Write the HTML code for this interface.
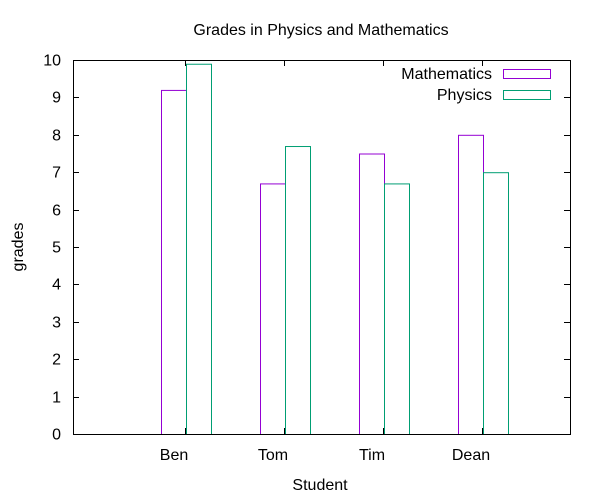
<!DOCTYPE html>
<html><head><meta charset="utf-8"><style>
body{margin:0;background:#fff}
svg{display:block;font-family:"Liberation Sans",sans-serif;font-size:16px}
</style></head><body>
<svg id="c" width="600" height="500">
<rect x="0" y="0" width="600" height="500" fill="#fff"/>
<text x="321" y="35" text-anchor="middle">Grades in Physics and Mathematics</text>
<text x="320" y="490" text-anchor="middle">Student</text>
<text transform="translate(23,247) rotate(-90)" text-anchor="middle">grades</text>
<g id="axes"></g>
<g id="bars"></g>
<rect x="73.5" y="60.5" width="497" height="374" fill="none" stroke="#000"/>
<g>
<text x="492" y="79" text-anchor="end">Mathematics</text>
<rect x="503.5" y="69.5" width="47" height="9" fill="none" stroke="#9400d3"/>
<text x="492" y="100" text-anchor="end">Physics</text>
<rect x="503.5" y="90.5" width="47" height="9" fill="none" stroke="#009e73"/>
</g>
</svg>
<script>
const categories = ["Ben","Tom","Tim","Dean"];
const mathematics = [9.2,6.7,7.5,8.0];
const physics = [9.9,7.7,6.7,7.0];
const yTicks = [0,1,2,3,4,5,6,7,8,9,10];
const NS="http://www.w3.org/2000/svg";
const top0=60, bot=434, left=73, right=570;
function y(v){return bot-(v/10)*(bot-top0);}
function cx(i){return 186+99*i;}
const bw=25;
const axes=document.getElementById('axes'), bars=document.getElementById('bars');
function mk(tag,attrs,parent){const e=document.createElementNS(NS,tag);for(const k in attrs)e.setAttribute(k,attrs[k]);parent.appendChild(e);return e;}
yTicks.forEach(t=>{
  const yy=Math.round(y(t))+0.5;
  const l=mk('path',{d:`M${left} ${yy}h6M${right} ${yy}h-6`,stroke:'#000'},axes);
  
  
  const tx=mk('text',{x:61,y:yy+5,'text-anchor':'end'},axes);
  tx.textContent=t;
  
  
});
categories.forEach((c,i)=>{
  const xx=cx(i)-0.5;
  const l=mk('path',{d:`M${xx} ${bot}v-6M${xx} ${top0}v6`,stroke:'#000'},axes);
  
  
  const tx=mk('text',{x:cx(i)-12,y:460,'text-anchor':'middle'},axes);
  tx.textContent=c;
  
  
  const m=mk('rect',{x:cx(i)-bw+0.5,y:y(mathematics[i])+0.5,width:bw,height:bot-y(mathematics[i]),fill:'none',stroke:'#9400d3'},bars);
  
  
  const p=mk('rect',{x:cx(i)+0.5,y:y(physics[i])+0.5,width:bw,height:bot-y(physics[i]),fill:'none',stroke:'#009e73'},bars);
  
  
});
</script>
</body></html>
